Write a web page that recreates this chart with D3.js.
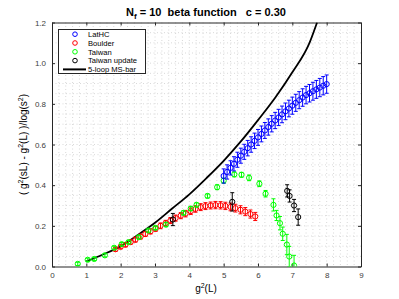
<!DOCTYPE html>
<html lang="en-US">
<head>
    <title>Beta function</title>
    <meta charset="utf-8">
    <script src="https://cdn.jsdelivr.net/npm/d3@7"></script>
    <style>
        body { margin: 0; background: white; }
        svg { display: block; }
    </style>
</head>
<body>
    <svg></svg>
</body>
<script>

    // g^2(L), value, error
    const latHC_g2 = [5.0, 5.1, 5.2, 5.3, 5.4, 5.5, 5.6, 5.7, 5.8, 5.9, 6.0, 6.1, 6.2, 6.3, 6.4, 6.5,
        6.6, 6.7, 6.8, 6.9, 7.0, 7.1, 7.2, 7.3, 7.4, 7.5, 7.6, 7.7, 7.8, 7.9, 8.0];
    const latHC_val = [0.445, 0.465, 0.485, 0.505, 0.525, 0.545, 0.564, 0.582, 0.6, 0.618, 0.635, 0.652,
        0.669, 0.686, 0.702, 0.718, 0.733, 0.748, 0.763, 0.777, 0.791, 0.805, 0.818, 0.831, 0.843,
        0.852, 0.862, 0.871, 0.88, 0.889, 0.897];
    const latHC_err = [0.035, 0.035, 0.035, 0.035, 0.037, 0.037, 0.037, 0.038, 0.038, 0.038, 0.039, 0.039,
        0.039, 0.04, 0.04, 0.04, 0.04, 0.041, 0.041, 0.041, 0.042, 0.042, 0.042, 0.043, 0.043,
        0.043, 0.044, 0.044, 0.045, 0.045, 0.045];

    const boulder_g2 = [1.85, 2.0, 2.14, 2.29, 2.43, 2.58, 2.72, 2.87, 3.02, 3.16, 3.31, 3.45, 3.6, 3.75,
        3.89, 4.04, 4.18, 4.33, 4.47, 4.62, 4.76, 4.91, 5.05, 5.2, 5.34, 5.49, 5.63, 5.78, 5.92];
    const boulder_val = [0.085, 0.097, 0.107, 0.12, 0.132, 0.147, 0.16, 0.173, 0.186, 0.2, 0.213, 0.226,
        0.238, 0.25, 0.26, 0.272, 0.283, 0.292, 0.297, 0.3, 0.302, 0.301, 0.298, 0.293, 0.287,
        0.279, 0.27, 0.258, 0.246];
    const boulder_err = [0.01, 0.01, 0.01, 0.01, 0.012, 0.012, 0.012, 0.013, 0.013, 0.014, 0.014, 0.015,
        0.015, 0.015, 0.016, 0.016, 0.016, 0.017, 0.017, 0.017, 0.018, 0.018, 0.018, 0.019, 0.019,
        0.02, 0.02, 0.02, 0.02];

    const taiwan_g2 = [0.75, 1.04, 1.23, 1.54, 1.81, 2.03, 2.23, 2.53, 2.81, 3.01, 3.32, 3.83, 4.04, 4.21,
        4.53, 4.81, 5.0, 5.31, 5.52, 5.74, 6.04, 6.22, 6.45, 6.54, 6.64, 6.72, 6.84, 6.91, 7.05];
    const taiwan_val = [0.013, 0.033, 0.037, 0.055, 0.092, 0.11, 0.12, 0.144, 0.177, 0.19, 0.206, 0.264,
        0.285, 0.303, 0.347, 0.39, 0.422, 0.453, 0.451, 0.436, 0.407, 0.358, 0.303, 0.251, 0.213,
        0.161, 0.108, 0.049, 0.005];
    const taiwan_err = [0.008, 0.008, 0.008, 0.008, 0.008, 0.008, 0.008, 0.008, 0.008, 0.008, 0.01, 0.01,
        0.01, 0.01, 0.01, 0.012, 0.012, 0.012, 0.012, 0.014, 0.014, 0.016, 0.03, 0.025, 0.033,
        0.033, 0.05, 0.05, 0.05];

    const update_g2 = [3.52, 5.25, 6.85, 6.92, 7.05, 7.17];
    const update_val = [0.231, 0.318, 0.372, 0.347, 0.3, 0.243];
    const update_err = [0.03, 0.045, 0.03, 0.03, 0.03, 0.04];

    // 5-loop MS-bar curve
    const msbar_g2 = [1.0, 1.5, 2.0, 2.5, 3.0, 3.5, 4.0, 4.5, 5.0, 5.5, 6.0, 6.5, 7.0, 7.5, 7.72];
    const msbar_val = [0.025, 0.06, 0.10, 0.155, 0.215, 0.285, 0.355, 0.435, 0.52, 0.615, 0.72, 0.83, 0.955, 1.1, 1.2];

    const x_ticks = [0, 1, 2, 3, 4, 5, 6, 7, 8, 9];
    const y_ticks = [0, 0.2, 0.4, 0.6, 0.8, 1, 1.2];

    const legend_labels = ['LatHC', 'Boulder', 'Taiwan', 'Taiwan update', '5-loop MS-bar'];
    const legend_colors = ['#0000ff', '#ff0000', '#00ff00', '#000000', '#000000'];

    let opt = {
        width: 399,
        height: 299,
        font: 'Liberation Sans, Arial, Helvetica, sans-serif',
        axis_color: '#262626',
        bounds: { x: 52, y: 22.5, width: 309, height: 244 }
    };
    calculateBounds(opt.bounds);

    let svg = d3.select('svg')
        .attr('width', opt.width)
        .attr('height', opt.height)
        .style('font-family', opt.font);

    let xScale = d3.scaleLinear().domain([0, 9]).range([opt.bounds.left, opt.bounds.right]);
    let yScale = d3.scaleLinear().domain([0, 1.2]).range([opt.bounds.bottom, opt.bounds.top]);

    svg.append('defs').append('clipPath')
        .attr('id', 'plot-clip')
        .append('rect')
        .attr('x', opt.bounds.left)
        .attr('y', opt.bounds.top)
        .attr('width', opt.bounds.width)
        .attr('height', opt.bounds.height);

    // Minor dotted grid
    let grid = svg.append('g').attr('id', 'grid');
    grid.selectAll('line.gx')
        .data(d3.range(0.2, 9, 0.2))
        .enter()
        .append('line')
        .attr('x1', d => xScale(d)).attr('x2', d => xScale(d))
        .attr('y1', opt.bounds.top).attr('y2', opt.bounds.bottom);
    grid.selectAll('line.gy')
        .data(d3.range(0.05, 1.2, 0.05))
        .enter()
        .append('line')
        .attr('x1', opt.bounds.left).attr('x2', opt.bounds.right)
        .attr('y1', d => yScale(d)).attr('y2', d => yScale(d));
    grid.selectAll('line')
        .style('stroke', '#c8c8c8')
        .style('stroke-width', 0.7)
        .style('stroke-dasharray', '1,2.5');

    // Axes (ticks inward, box on all sides)
    let axes = [
        d3.axisBottom(xScale).tickValues(x_ticks).tickSizeInner(-3).tickSizeOuter(0).tickPadding(6),
        d3.axisTop(xScale).tickValues(x_ticks).tickSizeInner(-3).tickSizeOuter(0).tickFormat(''),
        d3.axisLeft(yScale).tickValues(y_ticks).tickSizeInner(-3).tickSizeOuter(0).tickPadding(6),
        d3.axisRight(yScale).tickValues(y_ticks).tickSizeInner(-3).tickSizeOuter(0).tickFormat('')
    ];
    let shifts = [
        `translate(0,${opt.bounds.bottom})`,
        `translate(0,${opt.bounds.top})`,
        `translate(${opt.bounds.left},0)`,
        `translate(${opt.bounds.right},0)`
    ];
    axes.forEach((ax, i) => {
        let g = svg.append('g')
            .attr('transform', shifts[i])
            .call(ax);
        g.select('.domain').attr('stroke', opt.axis_color).attr('stroke-width', 1);
        g.selectAll('.tick line').attr('stroke', opt.axis_color);
        g.selectAll('.tick text')
            .attr('fill', '#404040')
            .style('font-family', opt.font)
            .style('font-size', '8px');
    });

    let plot = svg.append('g').attr('clip-path', 'url(#plot-clip)');

    // MS-bar curve
    let line = d3.line()
        .x(d => xScale(d[0]))
        .y(d => yScale(d[1]))
        .curve(d3.curveMonotoneX);

    plot.append('path')
        .datum(d3.zip(msbar_g2, msbar_val))
        .attr('d', line)
        .style('fill', 'none')
        .style('stroke', 'black')
        .style('stroke-width', 1.8);

    function drawSeries(g2, val, err, color) {
        let data = d3.zip(g2, val, err);
        let grp = plot.append('g');
        let cap = 2;
        data.forEach(d => {
            let x = xScale(d[0]);
            let y1 = yScale(d[1] - d[2]);
            let y2 = yScale(d[1] + d[2]);
            grp.append('line').attr('x1', x).attr('x2', x).attr('y1', y1).attr('y2', y2);
            grp.append('line').attr('x1', x - cap).attr('x2', x + cap).attr('y1', y1).attr('y2', y1);
            grp.append('line').attr('x1', x - cap).attr('x2', x + cap).attr('y1', y2).attr('y2', y2);
        });
        grp.selectAll('line')
            .style('stroke', color)
            .style('stroke-width', 1);
        grp.selectAll('circle')
            .data(data)
            .enter()
            .append('circle')
            .attr('cx', d => xScale(d[0]))
            .attr('cy', d => yScale(d[1]))
            .attr('r', 2.6)
            .style('fill', 'none')
            .style('stroke', color)
            .style('stroke-width', 1);
    }

    drawSeries(boulder_g2, boulder_val, boulder_err, '#ff0000');
    drawSeries(taiwan_g2, taiwan_val, taiwan_err, '#00ff00');
    drawSeries(latHC_g2, latHC_val, latHC_err, '#0000ff');
    drawSeries(update_g2, update_val, update_err, '#000000');

    // Legend
    let legend = svg.append('g').attr('id', 'legend');
    legend.append('rect')
        .attr('x', 58.5).attr('y', 29.5)
        .attr('width', 87).attr('height', 44)
        .style('fill', 'white')
        .style('stroke', opt.axis_color)
        .style('stroke-width', 1);

    legend_labels.forEach((t, i) => {
        let y = 34.2 + i * 8.8;
        if (i < 4) {
            legend.append('circle')
                .attr('cx', 75).attr('cy', y).attr('r', 2.3)
                .style('fill', 'none')
                .style('stroke', legend_colors[i])
                .style('stroke-width', 1);
        } else {
            legend.append('line')
                .attr('x1', 63).attr('x2', 86).attr('y1', y).attr('y2', y)
                .style('stroke', legend_colors[i])
                .style('stroke-width', 2);
        }
        legend.append('text')
            .attr('x', 88).attr('y', y + 2.8)
            .style('font-size', '7.6px')
            .attr('fill', 'black')
            .text(t);
    });

    // Title
    let title = svg.append('text')
        .attr('x', 206).attr('y', 16)
        .attr('text-anchor', 'middle')
        .style('font-size', '11px')
        .style('font-weight', 'bold');
    title.append('tspan').text('N');
    title.append('tspan').attr('dy', 3).style('font-size', '8px').text('f');
    title.append('tspan').attr('dy', -3).text(' = 10\u00a0 beta function \u00a0 c = 0.30');

    // X axis title
    let xt = svg.append('text')
        .attr('x', 206).attr('y', 292)
        .attr('text-anchor', 'middle')
        .style('font-size', '10px');
    xt.append('tspan').text('g');
    xt.append('tspan').attr('dy', -4).style('font-size', '7px').text('2');
    xt.append('tspan').attr('dy', 4).text('(L)');

    // Y axis title
    let yt = svg.append('text')
        .attr('text-anchor', 'middle')
        .attr('transform', `translate(27,${opt.bounds.ymid})rotate(-90)`)
        .style('font-size', '10px');
    yt.append('tspan').text('( g');
    yt.append('tspan').attr('dy', -4).style('font-size', '7px').text('2');
    yt.append('tspan').attr('dy', 4).text('(sL) - g');
    yt.append('tspan').attr('dy', -4).style('font-size', '7px').text('2');
    yt.append('tspan').attr('dy', 4).text('(L) )/log(s');
    yt.append('tspan').attr('dy', -4).style('font-size', '7px').text('2');
    yt.append('tspan').attr('dy', 4).text(')');

    function calculateBounds(bounds) {
        bounds.left = bounds.x;
        bounds.right = bounds.left + bounds.width;
        bounds.top = bounds.y;
        bounds.bottom = bounds.top + bounds.height;
        bounds.xmid = bounds.left + bounds.width / 2;
        bounds.ymid = bounds.top + bounds.height / 2;
        return bounds;
    }

</script>
</html>
